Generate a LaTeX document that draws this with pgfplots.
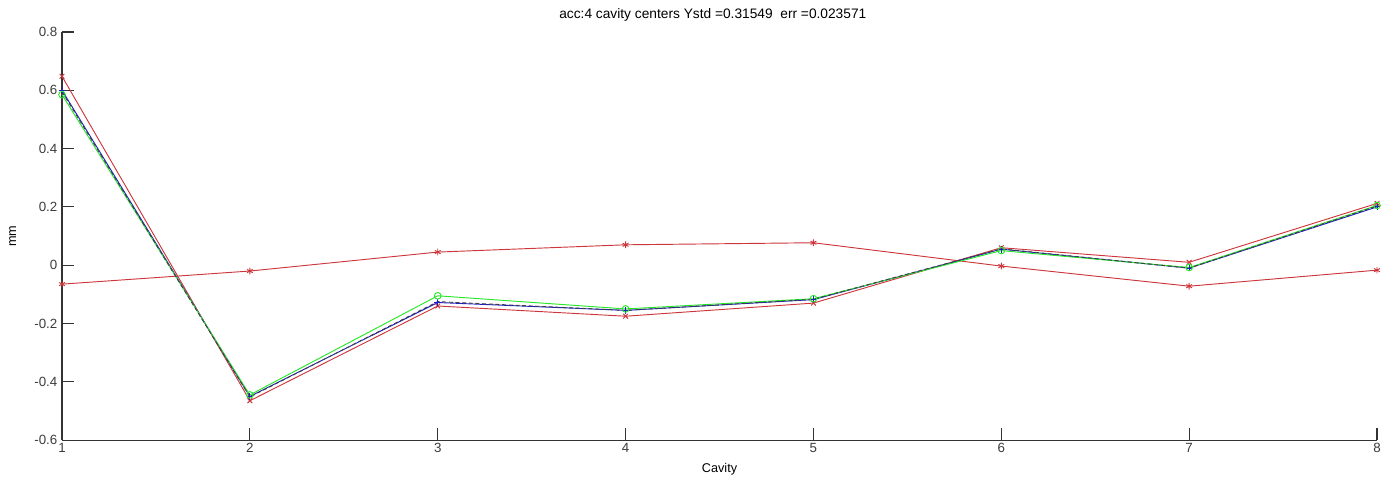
\documentclass[border=0pt]{standalone}
\usepackage{pgfplots}
\pgfplotsset{compat=1.18}
\usepackage{fontspec}
\setmainfont{Liberation Sans}

\definecolor{mred}{RGB}{205,55,60}
\definecolor{mblue}{RGB}{30,30,200}
\definecolor{mgreen}{RGB}{40,230,40}
\definecolor{tickgray}{RGB}{60,60,60}

\begin{document}
\begin{tikzpicture}
\begin{axis}[
    scale only axis,
    width=986pt, height=306pt,
    xmin=1, xmax=8,
    ymin=-0.6, ymax=0.8,
    xtick={1,2,3,4,5,6,7,8},
    ytick={-0.6,-0.4,-0.2,0,0.2,0.4,0.6,0.8},
    axis lines*=left,
    axis line style={black!80, line width=0.8pt},
    tick style={black!80, line width=0.8pt},
    major tick length=9pt,
    tick align=inside,
    tick label style={font=\fontsize{10}{11}\selectfont, text=tickgray},
    xticklabel style={yshift=1pt},
    /pgf/number format/assume math mode=true,
    yticklabel style={/pgf/number format/fixed, /pgf/number format/precision=1},
    title={acc:4 cavity centers Ystd =0.31549\ \ err =0.023571},
    title style={font=\fontsize{10.3}{12}\selectfont, yshift=-1.5pt, xshift=-5pt},
    xlabel={Cavity},
    ylabel={mm},
    label style={font=\fontsize{9.5}{11}\selectfont},
    xlabel style={at={(rel axis cs:0.5,0)}, anchor=center, yshift=-22pt},
    ylabel style={at={(rel axis cs:0,0.5)}, anchor=center, yshift=37pt},
    clip=false,
]
\coordinate (bl) at (rel axis cs:0,0);
\coordinate (tr) at (rel axis cs:1,1);

% flat series
\addplot[mred, line width=0.7pt, mark=asterisk, mark size=2.5pt] coordinates {
(1,-0.065)(2,-0.020)(3,0.045)(4,0.070)(5,0.077)(6,-0.003)(7,-0.072)(8,-0.017)};

% red x
\addplot[mred, line width=0.7pt, mark=x, mark size=2.5pt] coordinates {
(1,0.648)(2,-0.465)(3,-0.140)(4,-0.175)(5,-0.130)(6,0.060)(7,0.010)(8,0.212)};

% blue +
\addplot[mblue, line width=0.7pt, mark=+, mark size=2.5pt] coordinates {
(1,0.600)(2,-0.450)(3,-0.128)(4,-0.155)(5,-0.118)(6,0.055)(7,-0.010)(8,0.200)};

% green o
\addplot[mgreen, line width=0.7pt, mark=o, mark size=2.5pt] coordinates {
(1,0.585)(2,-0.445)(3,-0.105)(4,-0.150)(5,-0.115)(6,0.050)(7,-0.008)(8,0.205)};

% black dashed
\addplot[black!75, line width=0.7pt, dash pattern=on 3pt off 2pt] coordinates {
(1,0.595)(2,-0.452)(3,-0.125)(4,-0.155)(5,-0.117)(6,0.056)(7,-0.010)(8,0.203)};
\end{axis}
\pgfresetboundingbox
\path[use as bounding box] ([shift={(-46.5pt,-30pt)}]bl) rectangle ([shift={(3.75pt,24pt)}]tr);
\end{tikzpicture}
\end{document}
